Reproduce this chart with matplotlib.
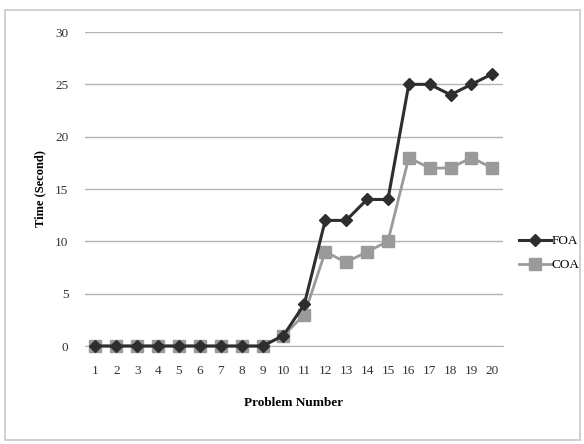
import matplotlib.pyplot as plt
from matplotlib.patches import Rectangle

problems = [str(i) for i in range(1, 21)]
foa = [0, 0, 0, 0, 0, 0, 0, 0, 0, 1, 4, 12, 12, 14, 14, 25, 25, 24, 25, 26]
coa = [0, 0, 0, 0, 0, 0, 0, 0, 0, 1, 3, 9, 8, 9, 10, 18, 17, 17, 18, 17]

plt.rcParams['font.family'] = ['Liberation Serif', 'DejaVu Serif']

fig = plt.figure(figsize=(5.84, 4.44), dpi=100)
fig.patches.append(Rectangle((5 / 584, 4 / 444), 575 / 584, 430 / 444,
                             transform=fig.transFigure, fill=False,
                             edgecolor='#c8c8c8', linewidth=1.2))

ax = fig.add_axes([0.1455, 0.2207, 0.7155, 0.7072])
x = range(len(problems))
ax.plot(x, coa, color='#9a9a9a', marker='s', markersize=9, linewidth=2,
        label='COA', zorder=3)
ax.plot(x, foa, color='#2e2e2e', marker='D', markersize=6, linewidth=2.2,
        label='FOA', zorder=4)

ax.set_xlim(-0.5, len(problems) - 0.5)
ax.set_ylim(0, 30)
ax.set_yticks(range(0, 31, 5))
ax.set_xticks(list(x))
ax.set_xticklabels(problems)
ax.yaxis.grid(True, color='#b4b4b4', linewidth=1)
ax.set_axisbelow(True)
for s in ['top', 'right', 'left']:
    ax.spines[s].set_visible(False)
ax.spines['bottom'].set_color('#b4b4b4')
ax.tick_params(length=0, labelsize=9.5, colors='#333333')
ax.tick_params(axis='x', pad=14)
ax.tick_params(axis='y', pad=12)
for line in ax.lines:
    line.set_clip_on(False)

ax.set_ylabel('Time (Second)', fontweight='bold', fontsize=9, labelpad=6)
ax.set_xlabel('Problem Number', fontweight='bold', fontsize=9.5, labelpad=14)

handles, labels = ax.get_legend_handles_labels()
ax.legend(handles[::-1], labels[::-1], loc='center left',
          bbox_to_anchor=(1.01, 0.296), frameon=False, fontsize=9.5,
          handlelength=2.4, handletextpad=0.1, labelspacing=0.9)

fig.savefig('out.png', dpi=100)
